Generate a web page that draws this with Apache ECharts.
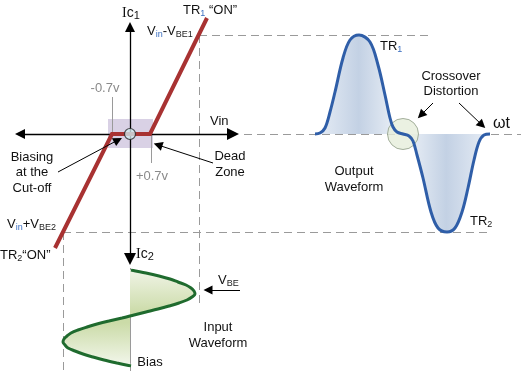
<!DOCTYPE html>
<html><head><meta charset="utf-8">
<script src="https://cdn.jsdelivr.net/npm/echarts@6.0.0/dist/echarts.min.js"></script>
<style>html,body{margin:0;padding:0;background:#fff}#c{width:521px;height:371px}</style>
</head><body><div id="c"></div>
<script>
// Diagram units: origin at the crossing of the Vin / Ic axes, y up.
// Transfer characteristic (Vin, Ic) with dead zone
const transferCurve = [[-75,-114],[-18,0],[20,0],[77,116]];
// Dead zone box [x1,y1,x2,y2]
const deadZone = [[-22,15,23,-14]];
// Output waveform (omega t, output)
const outputWave = [[185,0],[190,1],[195,6],[200,22],[205,42],[213,76],[220,94],[229,99],[240,92],[248,69],[255,39],[260,16],[263,7],[267,2],[273,0],[279,-2],[283,-7],[287,-21],[293,-44],[301,-78],[308,-94],[317,-98],[325,-94],[332,-78],[338,-54],[344,-26],[349,-8],[354,-1],[360,0]];
// Input waveform: time runs downward (categories), value horizontal
const inputTime = ['-136','-139','-142','-145','-148','-151','-154','-157','-160','-163','-166','-169','-172','-175','-178','-181','-184','-187','-190','-193','-196','-199','-202','-205','-208','-211','-214','-217','-220','-223','-226','-229','-232'];
const inputWave = [1,16,29,40,48,56,61,64,65,62,57,49,39,28,16,4,-8,-21,-33,-43,-52,-59,-63,-66,-67,-65,-62,-55,-47,-37,-26,-13,1];
// Guides
const dashedGuides = [[[69,99],[300,99]],[[69,99],[69,-174]],[[114,0],[391,0]],[[-67,-98],[360,-98]],[[-67,-98],[-67,-237]]];
const biasTicks = [[[-18,37],[-18,0]],[[21,0],[21,-29]],[[0,-134],[0,-237]]];
const axisArrows = [[[-110,0],[103,0]],[[0,107],[0,-125]]];
const pointerArrows = [[[-72,-38],[-12,-6]],[[83,-29],[28,-11]],[[110,-156],[78,-156]],[[303,31],[291,19]],[[329,31],[352,9]]];
const originPoint = [[0,0]];
const crossoverPoint = [[273,0]];

const F = 'Liberation Sans, Arial, sans-serif';
const RICH = {
  n:{fontSize:13,fontFamily:F,fill:'#111',lineHeight:16},
  s:{fontSize:9,fontFamily:F,fill:'#222',lineHeight:10,verticalAlign:'bottom'},
  b:{fontSize:9,fontFamily:F,fill:'#3b6fc0',lineHeight:10,verticalAlign:'bottom'},
  i:{fontSize:14,fontFamily:'Liberation Serif, serif',fill:'#111',lineHeight:16},
  c:{fontSize:14,fontFamily:F,fill:'#111',lineHeight:16},
  cs:{fontSize:11,fontFamily:F,fill:'#111',lineHeight:11,verticalAlign:'bottom'}
};
function txt(x,y,text,o){
  return {type:'text',x:x,y:y,z:100,style:Object.assign({text:text,fontFamily:F,fontSize:13,fill:'#111',align:'left',verticalAlign:'middle',rich:RICH},o||{})};
}
const C = {align:'center'};
const G = {align:'center',fill:'#8a8a8a'};
const labels = [
  txt(122,13,'{i|I}{c|c}{cs|1}'),
  txt(183,10,'{n|TR}{b|1}{n| “ON”}'),
  txt(147,31,'{n|V}{b|in}{n|-V}{s|BE1}'),
  txt(105,88,'-0.7v',G),
  txt(210,121,'Vin'),
  txt(32,157,'Biasing',C),txt(32,172,'at the',C),txt(32,188,'Cut-off',C),
  txt(152,176,'+0.7v',G),
  txt(230,156,'Dead',C),txt(230,172,'Zone',C),
  txt(7,224,'{n|V}{b|in}{n|+V}{s|BE2}'),
  txt(0,255,'{n|TR}{s|2}{n|“ON”}'),
  txt(136,254,'{i|I}{c|c}{cs|2}'),
  txt(218,280,'{n|V}{s|BE}'),
  txt(218,327,'Input',C),txt(218,343,'Waveform',C),
  txt(150,362,'Bias',C),
  txt(380,46,'{n|TR}{b|1}'),
  txt(451,76,'Crossover',C),txt(451,91,'Distortion',C),
  txt(493,124,'ωt',{fontSize:16}),
  txt(354,171,'Output',C),txt(354,187,'Waveform',C),
  txt(470,221,'{n|TR}{s|2}')
];

const chart = echarts.init(document.getElementById('c'),null,{renderer:'canvas'});
const blueFill = new echarts.graphic.LinearGradient(0,0,1,0,[
  {offset:0,color:'#e8eef6'},{offset:0.25,color:'#c3d1e4'},{offset:0.43,color:'#e3eaf3'},
  {offset:0.5,color:'#eef2f8'},{offset:0.57,color:'#e3eaf3'},{offset:0.75,color:'#c3d1e4'},{offset:1,color:'#e8eef6'}]);
const greenFill = new echarts.graphic.LinearGradient(0,0,0,1,[
  {offset:0,color:'#f0f4e6'},{offset:0.45,color:'#cbdba8'},{offset:0.55,color:'#cbdba8'},{offset:1,color:'#f3f7ec'}]);

chart.setOption({
  animation:false,
  backgroundColor:'#fff',
  grid:[{left:0,right:0,top:0,bottom:0},{left:0,right:0,top:270,bottom:5}],
  xAxis:[{type:'value',min:-130,max:391,show:false},{type:'value',min:-130,max:391,show:false,gridIndex:1}],
  yAxis:[{type:'value',min:-237,max:134,show:false},{type:'category',data:inputTime,inverse:true,boundaryGap:false,show:false,gridIndex:1}],
  graphic:labels,
  series:[
    {type:'custom',coordinateSystem:'cartesian2d',z:1,data:deadZone,clip:false,
     renderItem:function(p,api){
       const a=api.coord([api.value(0),api.value(1)]),b=api.coord([api.value(2),api.value(3)]);
       return {type:'rect',shape:{x:Math.min(a[0],b[0]),y:Math.min(a[1],b[1]),width:Math.abs(b[0]-a[0]),height:Math.abs(b[1]-a[1])},style:{fill:'#d9d1e5'}};
     }},
    {type:'lines',coordinateSystem:'cartesian2d',z:2,data:dashedGuides.map(c=>({coords:c})),
     lineStyle:{color:'#9a9a9a',width:1,type:[8,5],opacity:1,curveness:0},symbol:['none','none'],silent:true},
    {type:'lines',coordinateSystem:'cartesian2d',z:2,data:biasTicks.map(c=>({coords:c})),
     lineStyle:{color:'#9a9a9a',width:1,opacity:1,curveness:0},symbol:['none','none'],silent:true},
    {type:'lines',coordinateSystem:'cartesian2d',z:3,data:axisArrows.map(c=>({coords:c})),
     lineStyle:{color:'#000',width:1.3,opacity:1,curveness:0},symbol:['triangle','triangle'],symbolSize:[10,12],itemStyle:{color:'#000'},silent:true},
    {type:'line',z:4,data:transferCurve,showSymbol:false,symbol:'none',clip:false,
     lineStyle:{color:'#a83232',width:4,join:'miter'}},
    {type:'scatter',z:5,data:originPoint,symbolSize:11,itemStyle:{color:'#cfe9ee',borderColor:'#222',borderWidth:1.2}},
    {type:'lines',coordinateSystem:'cartesian2d',z:6,data:pointerArrows.map(c=>({coords:c})),
     lineStyle:{color:'#000',width:1,opacity:1,curveness:0},symbol:['none','triangle'],symbolSize:[7,9],itemStyle:{color:'#000'},silent:true},
    {type:'line',z:2,data:outputWave,smooth:0.35,showSymbol:false,symbol:'none',clip:false,
     lineStyle:{width:0,opacity:0},areaStyle:{origin:0,color:blueFill,opacity:1}},
    {type:'scatter',z:3,data:crossoverPoint,symbolSize:31,itemStyle:{color:'#e6eedb',borderColor:'#8e9c86',borderWidth:1}},
    {type:'line',z:4,data:outputWave,smooth:0.35,showSymbol:false,symbol:'none',clip:false,
     lineStyle:{color:'#2f5ea8',width:3}},
    {type:'line',z:3,xAxisIndex:1,yAxisIndex:1,data:inputWave,smooth:0.35,showSymbol:false,symbol:'none',clip:false,
     lineStyle:{color:'#1f6b2e',width:3},areaStyle:{origin:0,color:greenFill,opacity:1}}
  ]
});
</script></body></html>
